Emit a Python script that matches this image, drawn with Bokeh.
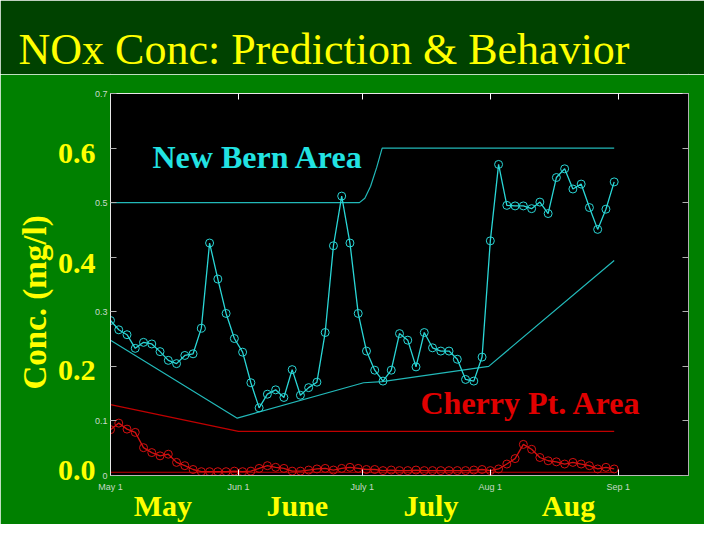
from bokeh.plotting import figure
from bokeh.models import Range1d, Label, FixedTicker, LinearAxis, Title
from bokeh.layouts import column
from bokeh.embed import file_html
from bokeh.resources import INLINE

# ---------------- data (days since May 1) ----------------
obs_days = list(range(0, 123, 2))
new_bern_obs = [0.284, 0.267, 0.258, 0.233, 0.244, 0.241, 0.227, 0.211, 0.205, 0.220,
                0.223, 0.270, 0.426, 0.360, 0.297, 0.251, 0.226, 0.170, 0.124, 0.149,
                0.157, 0.143, 0.194, 0.147, 0.161, 0.171, 0.262, 0.421, 0.512, 0.426,
                0.297, 0.228, 0.193, 0.173, 0.193, 0.260, 0.248, 0.199, 0.262, 0.234,
                0.228, 0.228, 0.213, 0.176, 0.173, 0.217, 0.430, 0.570, 0.495, 0.494,
                0.494, 0.489, 0.501, 0.480, 0.546, 0.562, 0.525, 0.534, 0.491, 0.451,
                0.488, 0.538]
cherry_obs = [0.084, 0.096, 0.085, 0.079, 0.051, 0.042, 0.036, 0.039, 0.024, 0.018,
              0.011, 0.007, 0.007, 0.007, 0.007, 0.008, 0.007, 0.008, 0.013, 0.018,
              0.015, 0.013, 0.008, 0.008, 0.010, 0.012, 0.013, 0.010, 0.013, 0.015,
              0.013, 0.011, 0.011, 0.009, 0.010, 0.009, 0.009, 0.010, 0.009, 0.009,
              0.009, 0.009, 0.009, 0.009, 0.010, 0.011, 0.009, 0.012, 0.021, 0.031,
              0.057, 0.048, 0.033, 0.027, 0.025, 0.021, 0.024, 0.021, 0.018, 0.012,
              0.015, 0.012]

nb_upper_days = [0, 60.3, 61.6, 63.0, 64.5, 65.8, 122]
nb_upper_vals = [0.500, 0.500, 0.508, 0.530, 0.565, 0.600, 0.600]
nb_lower_days = [0, 30.7, 61.3, 65.8, 91.6, 122]
nb_lower_vals = [0.248, 0.105, 0.170, 0.172, 0.200, 0.394]
cp_upper_days = [0, 31, 122]
cp_upper_vals = [0.130, 0.081, 0.081]
cp_lower_days = [0, 122]
cp_lower_vals = [0.006, 0.006]

y_ticks = [0, 0.1, 0.2, 0.3, 0.4, 0.5, 0.6, 0.7]
y_tick_labels = ["0", "0.1", "", "0.3", "", "0.5", "", "0.7"]
x_ticks = [0, 31, 61, 92, 123]
x_tick_labels = ["May 1", "Jun 1", "July 1", "Aug 1", "Sep 1"]
big_y_labels = ["0.6", "0.4", "0.2", "0.0"]
month_labels = ["May", "June", "July", "Aug"]

# ---------------- styling ----------------
DARK = "#004200"
GREEN = "#008000"
YELLOW = "#ffff00"
CYAN_OBS = "#2ad6d6"
CYAN_PRED = "#22b8b8"
RED_OBS = "#d41010"
RED_PRED = "#c00000"
SERIF = "Liberation Serif"
SMALL = "#c8d8c8"

# page-pixel geometry of the plot frame
FL, FR, FT, FB = 110, 688, 93, 476
W, H_TOP, H_ALL = 704, 74, 524
H_MAIN = H_ALL - H_TOP

# --------------- title band ---------------
top = figure(width=W, height=H_TOP, x_range=Range1d(0, 1), y_range=Range1d(0, 1),
             output_backend="svg", toolbar_location=None,
             x_axis_location=None, y_axis_location=None,
             min_border_left=FL, min_border_right=W - FR,
             min_border_top=H_TOP - 1, min_border_bottom=0,
             background_fill_color=DARK, border_fill_color=DARK,
             outline_line_color=DARK, outline_line_width=2)
top.xgrid.visible = False
top.ygrid.visible = False
top.add_layout(Title(text="NOx Conc:  Prediction & Behavior", align="left",
                     offset=18 - FL, vertical_align="bottom", standoff=0,
                     text_font=SERIF, text_font_size="44px", text_font_style="normal",
                     text_color=YELLOW), "above")

# --------------- main plot ---------------
X0, X1 = 0, 140
Y0, Y1 = 0, 0.7
p = figure(width=W, height=H_MAIN, x_range=Range1d(X0, X1), y_range=Range1d(Y0, Y1),
           output_backend="svg", toolbar_location=None,
           x_axis_location=None, y_axis_location=None,
           min_border_left=FL, min_border_right=W - FR,
           min_border_top=FT - H_TOP, min_border_bottom=H_ALL - FB,
           background_fill_color="black", border_fill_color=GREEN,
           outline_line_color="#b0b0b0")
p.xgrid.visible = False
p.ygrid.visible = False

def dx(px):
    return round(X0 + (px - FL) / (FR - FL) * (X1 - X0), 3)

def dy(py):
    return round(Y0 + (FB - py) / (FB - FT) * (Y1 - Y0), 4)

def style_axis(ax, tick_color, line_color, labels):
    ax.major_tick_in = 6
    ax.major_tick_out = 0
    ax.minor_tick_line_color = None
    ax.major_tick_line_color = tick_color
    ax.axis_line_color = line_color
    ax.major_label_text_color = SMALL
    ax.major_label_text_font = "Liberation Sans"
    ax.major_label_text_font_size = "9px"
    ax.major_label_standoff = 3
    ax.major_label_overrides = labels

def big_axis(ax, labels, standoff):
    ax.major_tick_in = 0
    ax.major_tick_out = 0
    ax.minor_tick_line_color = None
    ax.major_tick_line_color = None
    ax.axis_line_color = None
    ax.major_label_text_color = YELLOW
    ax.major_label_text_font = SERIF
    ax.major_label_text_font_style = "bold"
    ax.major_label_text_font_size = "30px"
    ax.major_label_standoff = standoff
    ax.major_label_overrides = labels

# inner left axis (small tick labels)
left = LinearAxis(ticker=FixedTicker(ticks=y_ticks, minor_ticks=[]))
style_axis(left, "#b0b0b0", "#e8e8e8", {t: l for t, l in zip(y_ticks, y_tick_labels)})
p.add_layout(left, "left")

# outer left axis (big yellow numbers)
big_y_pos = [dy(v) for v in [153.5, 263, 371, 471]]
left_big = LinearAxis(ticker=FixedTicker(ticks=big_y_pos, minor_ticks=[]))
big_axis(left_big, {t: l for t, l in zip(big_y_pos, big_y_labels)}, -4)
p.add_layout(left_big, "left")

# y title
p.add_layout(Title(text="Conc. (mg/l)", align="left", offset=FB - 390,
                   vertical_align="middle", standoff=2,
                   text_font=SERIF, text_font_size="33px", text_font_style="bold",
                   text_color=YELLOW), "left")

right = LinearAxis(ticker=FixedTicker(ticks=y_ticks, minor_ticks=[]))
style_axis(right, "#b0b0b0", "#b0b0b0", {t: "" for t in y_ticks})
p.add_layout(right, "right")

below = LinearAxis(ticker=FixedTicker(ticks=x_ticks, minor_ticks=[]))
style_axis(below, "#ffffff", "#b8b8b8", {t: l for t, l in zip(x_ticks, x_tick_labels)})
below.major_label_standoff = 6
p.add_layout(below, "below")

month_pos = [dx(v) for v in [162.3, 296.8, 430.4, 568]]
below_big = LinearAxis(ticker=FixedTicker(ticks=month_pos, minor_ticks=[]))
big_axis(below_big, {t: l for t, l in zip(month_pos, month_labels)}, -6)
p.add_layout(below_big, "below")

above = LinearAxis(ticker=FixedTicker(ticks=x_ticks[1:], minor_ticks=[]))
style_axis(above, "#ffffff", "#e8e8e8", {t: "" for t in x_ticks[1:]})
p.add_layout(above, "above")

# prediction lines
p.line(nb_upper_days, nb_upper_vals, line_color=CYAN_PRED, line_width=1.2)
p.line(nb_lower_days, nb_lower_vals, line_color=CYAN_PRED, line_width=1.2)
p.line(cp_upper_days, cp_upper_vals, line_color=RED_PRED, line_width=1.2)
p.line(cp_lower_days, cp_lower_vals, line_color=RED_PRED, line_width=1.2)

# observations
p.line(obs_days, new_bern_obs, line_color=CYAN_OBS, line_width=1.3)
p.scatter(obs_days, new_bern_obs, marker="circle", size=8, fill_color=None,
          line_color=CYAN_OBS, line_width=1)
p.line(obs_days, cherry_obs, line_color=RED_OBS, line_width=1.3)
p.scatter(obs_days, cherry_obs, marker="circle", size=8, fill_color=None,
          line_color=RED_OBS, line_width=1)

# in-plot area names
p.add_layout(Label(x=dx(152), y=dy(156.7), text="New Bern Area", text_font=SERIF,
                   text_font_style="bold", text_font_size="32px", text_color="#22e2e2",
                   text_baseline="alphabetic"))
p.add_layout(Label(x=dx(420), y=dy(403.5), text="Cherry Pt. Area", text_font=SERIF,
                   text_font_style="bold", text_font_size="32px", text_color="#e00000",
                   text_baseline="alphabetic"))

layout = column(top, p, spacing=0)
open("out.html", "w").write(file_html(layout, INLINE))
